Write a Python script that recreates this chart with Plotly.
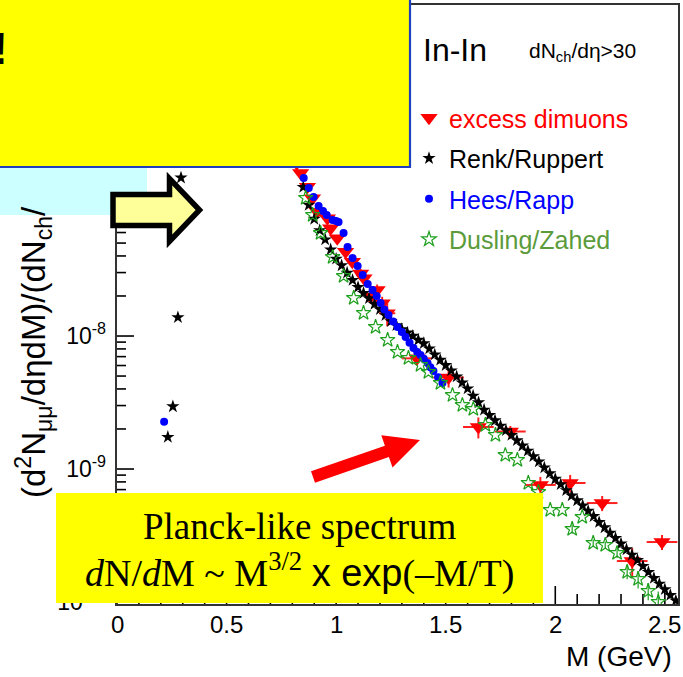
import numpy as np
import plotly.graph_objects as go

# ---------------- data (y stored as log10 of yield) ----------------
excess_x = [0.82, 0.838, 0.869, 0.892, 0.914, 0.960, 0.975, 1.005, 1.043, 1.074, 1.112, 1.127,
            1.157, 1.187, 1.210, 1.233, 1.369, 1.513, 1.649, 1.795, 1.932, 2.068, 2.214, 2.351, 2.487]
excess_log10 = [-6.70, -6.774, -6.877, -6.965, -7.065, -7.115, -7.190, -7.265, -7.366, -7.441, -7.529, -7.566,
                -7.705, -7.654, -7.754, -7.829, -8.168, -8.312, -8.684, -8.718, -9.120, -9.105, -9.256, -9.692, -9.549]
excess_xerr = [0.012, 0.012, 0.012, 0.012, 0.012, 0.012, 0.012, 0.012, 0.012, 0.012, 0.012, 0.012,
               0.012, 0.012, 0.02, 0.037, 0.068, 0.07, 0.07, 0.07, 0.07, 0.07, 0.07, 0.07, 0.07]
excess_relerr = [0.05, 0.05, 0.05, 0.05, 0.05, 0.05, 0.06, 0.06, 0.07, 0.07, 0.08, 0.08,
                 0.10, 0.10, 0.12, 0.20, 0.10, 0.16, 0.18, 0.10, 0.15, 0.15, 0.13, 0.25, 0.13]

renk_x = [0.232, 0.255, 0.278, 0.292,
          0.850, 0.875, 0.900, 0.925, 0.950, 0.975, 1.000, 1.025, 1.050, 1.075, 1.100, 1.125, 1.150,
          1.175, 1.200, 1.225, 1.250, 1.275, 1.300, 1.325, 1.350, 1.375, 1.400, 1.425, 1.450, 1.475,
          1.500, 1.525, 1.550, 1.575, 1.600, 1.625, 1.650, 1.675, 1.700, 1.725, 1.750, 1.775, 1.800,
          1.825, 1.850, 1.875, 1.900, 1.925, 1.950, 1.975, 2.000, 2.025, 2.050, 2.075, 2.100, 2.125,
          2.150, 2.175, 2.200, 2.225, 2.250, 2.275, 2.300, 2.325, 2.350, 2.375, 2.400, 2.425, 2.450,
          2.475, 2.500, 2.525, 2.550]
renk_log10 = [-8.76, -8.53, -7.86, -6.81,
              -6.88, -7.015, -7.12, -7.205, -7.275, -7.35, -7.42, -7.47, -7.525, -7.58, -7.633, -7.677, -7.717,
              -7.76, -7.80, -7.845, -7.89, -7.92, -7.95, -7.975, -8.00, -8.03, -8.055, -8.095, -8.14, -8.18,
              -8.22, -8.26, -8.305, -8.35, -8.395, -8.45, -8.50, -8.555, -8.595, -8.635, -8.675, -8.71, -8.745,
              -8.785, -8.825, -8.863, -8.905, -8.945, -8.99, -9.033, -9.075, -9.115, -9.16, -9.20, -9.237, -9.275,
              -9.315, -9.355, -9.40, -9.44, -9.48, -9.52, -9.562, -9.605, -9.645, -9.685, -9.73, -9.775, -9.82,
              -9.863, -9.905, -9.948, -9.99]

hees_x = [0.215, 0.852, 0.875, 0.897, 0.920, 0.940, 0.957, 0.984, 1.000, 1.011, 1.034, 1.052, 1.075, 1.098,
          1.121, 1.144, 1.166, 1.185, 1.203, 1.220, 1.239, 1.260, 1.280, 1.300, 1.317, 1.335, 1.353,
          1.370, 1.385, 1.400, 1.417, 1.430, 1.444, 1.465, 1.485]
hees_log10 = [-8.644, -6.812, -6.887, -6.955, -7.023, -7.06, -7.090, -7.128, -7.135, -7.143, -7.226, -7.331,
              -7.414, -7.474, -7.541, -7.609, -7.654, -7.70, -7.752, -7.80, -7.842, -7.89, -7.932, -7.97,
              -8.008, -8.05, -8.090, -8.12, -8.143, -8.17, -8.203, -8.235, -8.263, -8.31, -8.353]

dusling_x = [0.861, 0.893, 0.929, 0.984, 1.034, 1.080, 1.125, 1.180, 1.235, 1.280, 1.330, 1.385, 1.421,
             1.476, 1.531, 1.576, 1.626, 1.681, 1.727, 1.772, 1.827, 1.877, 1.923, 1.977, 2.032, 2.077,
             2.123, 2.173, 2.228, 2.282, 2.328, 2.378, 2.424, 2.470]
dusling_log10 = [-6.962, -7.090, -7.226, -7.406, -7.549, -7.714, -7.827, -7.932, -8.030, -8.120, -8.165,
                 -8.218, -8.271, -8.353, -8.444, -8.519, -8.549, -8.669, -8.744, -8.895, -8.932, -9.105,
                 -9.173, -9.308, -9.308, -9.451, -9.361, -9.556, -9.571, -9.632, -9.774, -9.827, -9.917, -10.0]
dusling_relerr = [0, 0, 0, 0, 0, 0, 0, 0, 0, 0, 0, 0, 0, 0, 0, 0, 0, 0, 0, 0, 0, 0,
                  0, 0, 0, 0.08, 0, 0.06, 0.06, 0.08, 0.12, 0.15, 0.15, 0.2]

x_tickvals = [0, 0.5, 1, 1.5, 2, 2.5]
x_ticktext = ["0", "0.5", "1", "1.5", "2", "2.5"]
x_minor = [round(0.1 * i, 1) for i in range(26) if i % 5 != 0]
y_tick_exp = [-10, -9, -8, -7, -6]
y_ticktext = ["10<sup>-10</sup>", "10<sup>-9</sup>", "10<sup>-8</sup>", "10<sup>-7</sup>", "10<sup>-6</sup>"]
y_minor = [m * 10.0 ** e for e in range(-11, -5) for m in range(2, 10)]

# ---------------- layout geometry ----------------
W, H = 683, 677
L, R, T, B = 117, 5, 5, 73
PW, PH = W - L - R, H - T - B
XR = [0, 2.56]
YR = [-10.015, -5.511]
PX_PER_X = PW / (XR[1] - XR[0])        # pixels per GeV
PX_PER_DEC = PH / (YR[1] - YR[0])      # pixels per decade


def xp(p):  # pixel -> paper x
    return (p - L) / PW


def yp(p):  # pixel -> paper y
    return (H - B - p) / PH


ey = 10 ** np.array(excess_log10)
fig = go.Figure()


# ---- inside tick marks (ROOT style), built from the tick arrays through the axes' scales ----
def tick_trace(xs_major, xs_minor, ys_major, ys_minor):
    tx, ty = [], []
    ybot = 10 ** YR[0]
    for v, ln in [(v, 18) for v in xs_major] + [(v, 10) for v in xs_minor]:
        tx += [v, v, None]
        ty += [ybot, 10 ** (YR[0] + ln / PX_PER_DEC), None]
    for v, ln in [(v, 17) for v in ys_major] + [(v, 9) for v in ys_minor]:
        if YR[0] <= np.log10(v) <= YR[1]:
            tx += [XR[0], XR[0] + ln / PX_PER_X, None]
            ty += [v, v, None]
    return tx, ty


tkx, tky = tick_trace(x_tickvals, x_minor, [10.0 ** e for e in y_tick_exp], y_minor)
fig.add_trace(go.Scatter(x=tkx, y=tky, mode="lines", line=dict(color="black", width=1.6),
                         showlegend=False, hoverinfo="skip", cliponaxis=False))

fig.add_trace(go.Scatter(
    x=excess_x, y=ey, mode="markers",
    name='<span style="color:#ff0000">excess dimuons</span>',
    legendgroup="a",
    marker=dict(symbol="triangle-down", size=15, color="#ff0000"),
    error_x=dict(type="data", array=excess_xerr, color="#ff2020", thickness=2, width=0),
    error_y=dict(type="data", array=list(ey * np.array(excess_relerr)),
                 arrayminus=list(ey * np.array(excess_relerr)), color="#ff2020", thickness=2, width=0),
))
fig.add_trace(go.Scatter(
    x=renk_x, y=10 ** np.array(renk_log10), mode="markers",
    name='<span style="color:#000000">Renk/Ruppert</span>',
    legendgroup="b",
    marker=dict(symbol="star", size=10, color="#000000", line=dict(width=0)),
))
fig.add_trace(go.Scatter(
    x=hees_x, y=10 ** np.array(hees_log10), mode="markers",
    name='<span style="color:#0000ff">Hees/Rapp</span>',
    legendgroup="c",
    marker=dict(symbol="circle", size=8, color="#0000ff"),
))
dy = 10 ** np.array(dusling_log10)
fig.add_trace(go.Scatter(
    x=dusling_x, y=dy, mode="markers",
    name='<span style="color:#5b9b3b">Dusling/Zahed</span>',
    legendgroup="d",
    marker=dict(symbol="star-open", size=11, color="#1ea01e", line=dict(width=1.2, color="#1ea01e")),
    error_y=dict(type="data", array=list(dy * np.array(dusling_relerr)), color="#1ea01e",
                 thickness=1.2, width=0),
))

sans = "Liberation Sans, Arial, sans-serif"
serif = "Liberation Serif, Times New Roman, serif"
axis_font = dict(family=sans, size=24, color="black")
yaxis_font = dict(family=sans, size=23, color="black")

fig.update_layout(
    width=W, height=H,
    margin=dict(l=L, r=R, t=T, b=B, autoexpand=False),
    paper_bgcolor="white", plot_bgcolor="white",
    showlegend=True,
    legend=dict(x=xp(409), y=yp(95), xanchor="left", yanchor="top",
                bgcolor="rgba(0,0,0,0)", font=dict(family=sans, size=25),
                tracegroupgap=5, itemsizing="trace"),
    xaxis=dict(range=XR, tickmode="array", tickvals=x_tickvals, ticktext=x_ticktext, ticks="",
               showticklabels=False,
               showgrid=False, zeroline=False, showline=True, linecolor="#333333", linewidth=1.5, mirror=True),
    yaxis=dict(type="log", range=YR, tickmode="array",
               tickvals=[10.0 ** e for e in y_tick_exp],
               ticktext=[t + "\u2009" for t in y_ticktext], ticks="",
               showgrid=False, zeroline=False, showline=True, linecolor="#333333", linewidth=1.5, mirror=True,
               tickfont=yaxis_font),
)

# ---------------- overlay shapes (slide decorations) ----------------
shapes = [
    dict(type="rect", xref="paper", yref="paper", x0=xp(-5), x1=xp(147), y0=yp(215), y1=yp(160),
         fillcolor="#ccffff", line=dict(width=0), layer="above"),
    dict(type="rect", xref="paper", yref="paper", x0=xp(-5), x1=xp(410), y0=yp(167), y1=yp(-5),
         fillcolor="#ffff00", line=dict(width=2.2, color="#1f3fbf"), layer="above"),
    dict(type="rect", xref="paper", yref="paper", x0=xp(56), x1=xp(543), y0=yp(603), y1=yp(493),
         fillcolor="#ffff00", line=dict(width=0), layer="above"),
]
arrow_pts = [(113, 194.5), (169.5, 194.5), (169.5, 178.5), (199.5, 210), (169.5, 241.5), (169.5, 225.5), (113, 225.5)]
path = "M " + " L ".join(f"{xp(a):.5f},{yp(b):.5f}" for a, b in arrow_pts) + " Z"
shapes.append(dict(type="path", xref="paper", yref="paper", path=path, fillcolor="#ffff99",
                   line=dict(width=5.5, color="black"), layer="above"))
red_pts = [(315, 482.7), (388.9, 457.1), (392.5, 467.5), (420, 440), (381.3, 435.3), (384.9, 445.7), (311, 471.3)]
path2 = "M " + " L ".join(f"{xp(a):.5f},{yp(b):.5f}" for a, b in red_pts) + " Z"
shapes.append(dict(type="path", xref="paper", yref="paper", path=path2, fillcolor="#ff0000",
                   line=dict(width=0), layer="above"))
fig.update_layout(shapes=shapes)

ann = [
    dict(text="In-In", x=xp(421), y=yp(50), xanchor="left", yanchor="middle",
         font=dict(family=sans, size=32, color="black")),
    dict(text="dN<sub>ch</sub>/dη&gt;30", x=xp(527), y=yp(52), xanchor="left", yanchor="middle",
         font=dict(family=sans, size=21, color="black")),
    dict(text="M (GeV)", x=xp(674), y=yp(656), xanchor="right", yanchor="middle",
         font=dict(family=sans, size=28, color="black")),
    dict(text="(d<sup>2</sup>N<sub>μμ</sub>/dηdM)/(dN<sub>ch</sub>/", textangle=-90,
         x=xp(33), y=yp(500), xanchor="center", yanchor="bottom",
         font=dict(family=sans, size=33, color="black")),
    dict(text="<b>!</b>", x=xp(0), y=yp(48), xanchor="center", yanchor="middle",
         font=dict(family=sans, size=44, color="black")),
    dict(text="Planck-like spectrum", x=xp(300), y=yp(526), xanchor="center", yanchor="middle",
         font=dict(family=serif, size=37, color="black")),
    dict(text='<i>d</i>N/<i>d</i>M ~ M<sup>3/2</sup> <span style="font-family:Liberation Sans">x exp</span>(–M/T)',
         x=xp(299), y=yp(570), xanchor="center", yanchor="middle",
         font=dict(family=serif, size=38, color="black")),
]
for a in ann:
    a.update(xref="paper", yref="paper", showarrow=False)
# x-axis tick labels placed at the tick values through the x scale
for v, t in zip(x_tickvals, x_ticktext):
    ann.append(dict(text=t, x=v, xref="x", y=yp(624), yref="paper", xanchor="center", yanchor="middle",
                    showarrow=False, font=axis_font))
fig.update_layout(annotations=ann)

fig.write_html("out.html")
